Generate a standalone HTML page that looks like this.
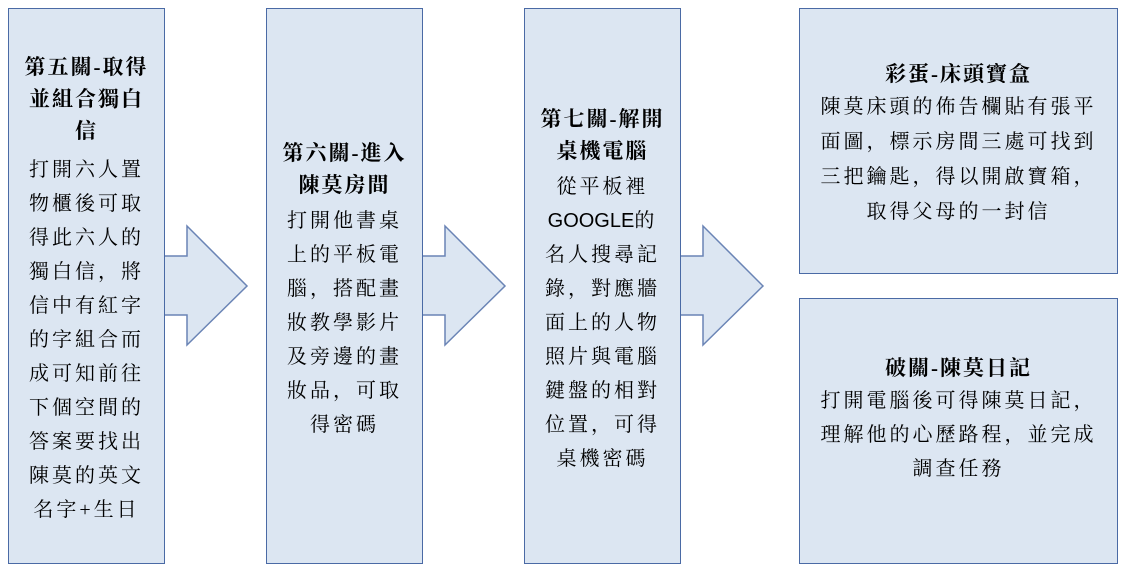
<!DOCTYPE html>
<html><head><meta charset="utf-8"><style>
body{margin:0;width:1126px;height:576px;background:#fff;position:relative;overflow:hidden;font-family:"Liberation Serif","Noto Serif CJK SC","Noto Serif CJK TC",serif;color:#000}
.b{position:absolute;background:#dce6f2;border:1.5px solid #4a6aa5;box-sizing:border-box;display:flex;flex-direction:column;justify-content:center;align-items:center;text-align:center;padding-top:6px}
.t{font-weight:bold;font-size:21px;line-height:32px;letter-spacing:2px}
.p{font-size:20px;line-height:34px;letter-spacing:3px}
</style></head><body>
<svg width="1126" height="576" style="position:absolute;left:0;top:0">
<g fill="#dce6f2" stroke="#6a84b5" stroke-width="1.5">
<polygon points="163,256 187,256 187,226 247,286 187,345 187,315 163,315"/>
<polygon points="421,256 445,256 445,226 505,286 445,345 445,315 421,315"/>
<polygon points="679,256 703,256 703,226 763,286 703,345 703,315 679,315"/>
</g></svg>
<div class="b" style="left:8px;top:8px;width:157px;height:556px">
<div class="t">第五關-取得<br>並組合獨白<br>信</div>
<div class="p" style="margin-top:6px">打開六人置<br>物櫃後可取<br>得此六人的<br>獨白信，將<br>信中有紅字<br>的字組合而<br>成可知前往<br>下個空間的<br>答案要找出<br>陳莫的英文<br>名字+生日</div>
</div>
<div class="b" style="left:266px;top:8px;width:157px;height:556px">
<div class="t">第六關-進入<br>陳莫房間</div>
<div class="p" style="margin-top:3px">打開他書桌<br>上的平板電<br>腦，搭配畫<br>妝教學影片<br>及旁邊的畫<br>妝品，可取<br>得密碼</div>
</div>
<div class="b" style="left:524px;top:8px;width:157px;height:556px">
<div class="t">第七關-解開<br>桌機電腦</div>
<div class="p" style="margin-top:3px">從平板裡<br><span style="font-family:'Liberation Sans',sans-serif;letter-spacing:0">GOOGLE</span>的<br>名人搜尋記<br>錄，對應牆<br>面上的人物<br>照片與電腦<br>鍵盤的相對<br>位置，可得<br>桌機密碼</div>
</div>
<div class="b" style="left:799px;top:8px;width:319px;height:266px">
<div class="t">彩蛋-床頭寶盒</div>
<div class="p" style="margin-top:0;line-height:35px">陳莫床頭的佈告欄貼有張平<br>面圖，標示房間三處可找到<br>三把鑰匙，得以開啟寶箱，<br>取得父母的一封信</div>
</div>
<div class="b" style="left:799px;top:298px;width:319px;height:266px;padding-top:0;padding-bottom:24px">
<div class="t">破關-陳莫日記</div>
<div class="p" style="margin-top:0">打開電腦後可得陳莫日記，<br>理解他的心歷路程，並完成<br>調查任務</div>
</div>
</body></html>
